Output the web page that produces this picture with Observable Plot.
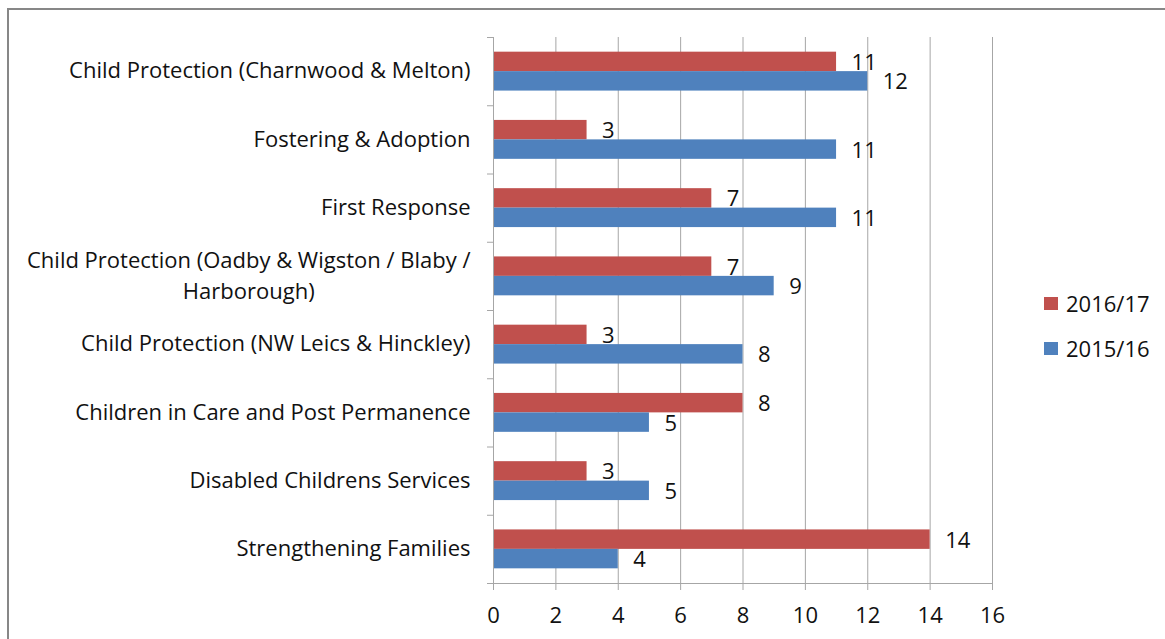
<!DOCTYPE html>
<html>
<head>
<meta charset="utf-8">
<script src="https://cdn.jsdelivr.net/npm/d3@7"></script>
<script src="https://cdn.jsdelivr.net/npm/@observablehq/plot@0.6"></script>
<style>
  html, body { margin: 0; padding: 0; background: #fff; }
  #wrap { position: relative; width: 1165px; height: 639px; overflow: hidden; font-family: "Open Sans", sans-serif; }
  #border { position: absolute; left: 7px; top: 8px; width: 1200px; height: 700px; border: 2px solid #878787; box-sizing: border-box; }
  #chart { position: absolute; left: 0; top: 0; }
  .legend { position: absolute; left: 1044px; font-size: 22px; color: #111; display: flex; align-items: center; }
  .legend .sw { width: 14px; height: 13px; margin-right: 8px; }
</style>
</head>
<body>
<div id="wrap">
  <div id="border"></div>
  <div id="chart"></div>
  <div id="legend"></div>
</div>
<script>
const categories = [
  "Child Protection (Charnwood & Melton)",
  "Fostering & Adoption",
  "First Response",
  "Child Protection (Oadby & Wigston / Blaby / Harborough)",
  "Child Protection (NW Leics & Hinckley)",
  "Children in Care and Post Permanence",
  "Disabled Childrens Services",
  "Strengthening Families"
];
const series = ["2016/17", "2015/16"];
const values2016 = [11, 3, 7, 7, 3, 8, 3, 14];
const values2015 = [12, 11, 11, 9, 8, 5, 5, 4];
const xTicks = [0, 2, 4, 6, 8, 10, 12, 14, 16];
const colors = ["#C0504D", "#4F81BD"];

const data = categories.flatMap((c, i) => [
  { cat: c, series: series[0], value: values2016[i], y1: i + 0.215, y2: i + 0.5 },
  { cat: c, series: series[1], value: values2015[i], y1: i + 0.5, y2: i + 0.785 }
]);

const gray = "#a6a6a6";
const chart = Plot.plot({
  width: 1165,
  height: 639,
  marginLeft: 493,
  marginRight: 173,
  marginTop: 37,
  marginBottom: 56,
  x: { type: "linear", domain: [0, 16], label: null },
  y: { type: "linear", domain: [0, 8], reverse: true, label: null },
  color: { domain: series, range: colors },
  style: { fontFamily: "'Open Sans', sans-serif", fontSize: "22px", color: "#111", background: "transparent" },
  marks: [
    Plot.gridX(xTicks, { stroke: gray, strokeOpacity: 1 }),
    Plot.rectX(data, { x: "value", y1: "y1", y2: "y2", fill: "series" }),
    Plot.ruleX([0], { stroke: gray }),
    Plot.ruleY([8], { stroke: gray }),
    Plot.axisX(xTicks, { tickSize: 7, tickPadding: 17, stroke: gray, strokeOpacity: 1, fill: "#111", tickFormat: d => d, label: null }),
    Plot.axisY(d3.range(9), { tickSize: 6, stroke: gray, strokeOpacity: 1, tickFormat: () => "", label: null }),
    Plot.axisY(d3.range(8).map(i => i + 0.5), {
      tickSize: 0, tickPadding: 23, fill: "#111", lineHeight: 1.4, label: null, dy: -3,
      tickFormat: v => categories[Math.floor(v)].replace("Blaby / ", "Blaby /\n")
    }),
    Plot.text(data, { x: "value", y: d => (d.y1 + d.y2) / 2, text: "value", dx: 15, dy: 1, textAnchor: "start", fill: "#111" })
  ]
});
document.getElementById("chart").appendChild(chart);

// center-align multi-line category labels (as in the original)
chart.querySelectorAll("text").forEach(t => {
  const spans = t.querySelectorAll("tspan");
  if (spans.length > 1) {
    const w = t.getBBox().width;
    t.setAttribute("text-anchor", "middle");
    spans.forEach(s => s.setAttribute("x", -w / 2));
  }
});

const legendTops = [288, 333];
series.forEach((s, k) => {
  const el = document.createElement("div");
  el.className = "legend";
  el.style.top = legendTops[k] + "px";
  el.innerHTML = `<div class="sw" style="background:${colors[k]}"></div><span>${s}</span>`;
  document.getElementById("legend").appendChild(el);
});
</script>
</body>
</html>
